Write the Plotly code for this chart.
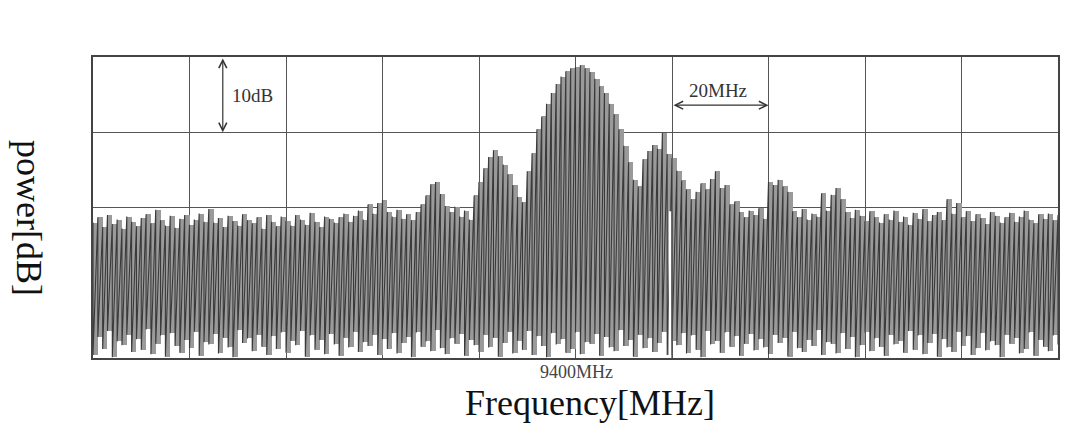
import plotly.graph_objects as go

# Spectrum analyser sweep: 9300–9500 MHz, 1 MHz bins, 10 dB/div (top of screen = 0 dB)
freq_start_mhz = 9300
bin_step_mhz = 1

# Peak level reached by the trace in each bin (dB)
peak_db = [
    -22.0, -21.3, -22.6, -21.0, -22.2, -21.6, -22.8, -21.2, -21.9, -22.5,
    -21.4, -20.9, -22.1, -20.3, -21.7, -22.4, -21.1, -22.7, -21.5, -21.0,
    -22.3, -21.6, -20.8, -21.9, -20.2, -22.0, -21.4, -22.6, -21.1, -21.8,
    -22.4, -20.9, -21.7, -22.1, -21.3, -22.8, -21.0, -21.9, -22.5, -21.2,
    -21.8, -22.4, -21.0, -21.6, -22.3, -20.7, -21.9, -22.6, -21.2, -21.5,
    -22.0, -21.3, -20.8, -21.9, -21.1, -20.4, -21.6, -19.6, -20.8, -19.4,
    -19.0, -20.6, -21.2, -20.3, -21.5, -20.9, -21.7, -20.6, -19.6, -18.4,
    -16.9, -16.6, -18.2, -19.8, -20.6, -19.9, -21.2, -20.4, -21.6, -18.4,
    -16.6, -14.8, -13.3, -12.4, -13.2, -14.3, -15.6, -17.0, -18.6, -19.3,
    -15.2, -12.8, -9.6, -7.9, -6.2, -4.8, -3.6, -2.6, -1.9, -1.5,
    -1.3, -1.1, -1.5, -2.0, -2.9, -3.9, -4.8, -6.2, -7.6, -9.6,
    -11.8, -14.0, -16.3, -17.2, -13.6, -12.5, -11.7, -12.2, -10.1, -12.9,
    -13.4, -15.1, -16.4, -17.6, -18.9, -17.9, -16.8, -17.6, -16.2, -15.2,
    -17.4, -17.0, -19.6, -19.2, -20.6, -21.3, -20.4, -21.0, -20.1, -21.5,
    -16.6, -17.0, -16.3, -17.2, -17.9, -20.5, -21.3, -20.2, -21.6, -20.8,
    -21.2, -18.1, -20.4, -18.3, -17.4, -18.9, -20.6, -21.4, -20.3, -21.1,
    -21.8, -20.5, -21.3, -22.0, -20.9, -21.6, -20.4, -21.9, -21.2, -22.3,
    -20.7, -21.5, -20.2, -21.8, -21.0, -20.6, -21.7, -18.9, -20.8, -19.4,
    -21.3, -20.5, -21.8, -20.9, -21.4, -22.2, -20.6, -21.1, -22.0, -21.3,
    -20.7, -21.9, -21.2, -20.4, -21.6, -22.1, -20.9, -21.5, -20.8, -21.7,
    -21.0,
]

# Lowest level reached by the trace in each bin (dB)
floor_db = [
    -39.6, -37.2, -38.8, -36.4, -39.9, -37.8, -38.3, -36.9, -39.2, -37.5,
    -38.9, -36.2, -39.5, -38.1, -37.0, -39.8, -36.7, -38.4, -39.3, -37.6,
    -38.7, -36.5, -39.7, -37.9, -38.2, -36.8, -39.4, -37.3, -38.6, -39.9,
    -36.3, -38.0, -37.4, -39.1, -36.9, -38.5, -39.6, -37.1, -38.8, -36.6,
    -39.3, -37.7, -38.3, -36.4, -39.8, -37.0, -38.9, -37.6, -39.5, -36.8,
    -38.2, -39.7, -37.3, -38.6, -36.5, -39.2, -37.9, -38.4, -36.9, -39.6,
    -37.5, -38.8, -36.7, -39.4, -38.0, -37.2, -39.9, -36.6, -38.5, -37.8,
    -39.1, -36.3, -38.7, -39.5, -37.4, -38.1, -36.8, -39.7, -37.6, -38.3,
    -39.2, -36.9, -38.6, -37.3, -39.8, -38.0, -36.5, -39.4, -37.7, -38.9,
    -36.4, -39.6, -37.1, -38.4, -39.9, -36.7, -38.2, -37.5, -39.3, -38.8,
    -36.6, -39.5, -37.9, -38.1, -36.8, -39.7, -37.2, -38.6, -39.1, -36.3,
    -38.4, -37.6, -39.8, -36.9, -38.7, -37.4, -39.2, -38.0, -36.5, -39.6,
    -37.8, -38.3, -36.7, -39.4, -37.0, -38.9, -39.9, -36.4, -38.2, -37.7,
    -39.3, -36.6, -38.5, -37.1, -39.7, -38.1, -36.8, -39.0, -37.5, -38.6,
    -39.5, -36.9, -38.0, -37.3, -39.8, -36.5, -38.7, -39.2, -37.6, -38.4,
    -36.3, -39.6, -37.9, -38.1, -39.4, -36.7, -38.8, -37.2, -39.9, -38.3,
    -36.6, -39.1, -37.4, -38.5, -39.7, -36.9, -38.2, -37.7, -39.3, -36.4,
    -38.9, -37.0, -39.5, -38.0, -36.8, -39.8, -37.5, -38.6, -39.2, -36.5,
    -38.4, -37.1, -39.6, -38.7, -36.7, -39.0, -37.8, -38.3, -39.9, -36.9,
    -38.1, -37.3, -39.4, -38.8, -36.6, -39.7, -37.6, -38.5, -39.1, -37.0,
    -38.2,
]

center_label = "9400MHz"
marker_gap_mhz = 9419.6          # blank column left in the trace by the marker
span_arrow_mhz = (9420, 9440)     # one horizontal division
span_arrow_db = -6.4
level_arrow_mhz = 9326.9
level_arrow_db = (0, -10)         # one vertical division

n = min(len(peak_db), len(floor_db))
freqs = [freq_start_mhz + i * bin_step_mhz for i in range(n)]
hi_db = peak_db[:n]
lo_db = floor_db[:n]

fig = go.Figure()

# Shaded extent of every sweep bin (peak to floor)
fig.add_trace(go.Bar(
    x=[f + bin_step_mhz / 2 for f in freqs],
    y=[h - l for h, l in zip(hi_db, lo_db)],
    base=lo_db, width=bin_step_mhz,
    marker=dict(color="#9a9a9a", line=dict(width=0)),
    hoverinfo="skip", showlegend=False,
))

# The analyser trace swings peak -> floor inside every bin
trace_x, trace_y = [], []
for f, hi, lo in zip(freqs, hi_db, lo_db):
    trace_x += [f, f]
    trace_y += [hi, lo]
fig.add_trace(go.Scatter(
    x=trace_x, y=trace_y, mode="lines",
    line=dict(color="#3a3a3a", width=1.1),
    hoverinfo="skip", showlegend=False,
))

# Marker column drawn blank over the trace
fig.add_shape(type="line", x0=marker_gap_mhz, x1=marker_gap_mhz, y0=-20.5, y1=-40,
              line=dict(color="white", width=2.5), layer="above")
# Keep the division line just right of it visible
fig.add_shape(type="line", x0=9420, x1=9420, y0=-20.5, y1=-40,
              line=dict(color="#555555", width=1.3), layer="above")

serif = "Liberation Serif, DejaVu Serif, serif"
anns = [
    dict(x=level_arrow_mhz, y=level_arrow_db[1], ax=level_arrow_mhz, ay=level_arrow_db[0],
         xref="x", yref="y", axref="x", ayref="y", text="", showarrow=True,
         arrowhead=5, startarrowhead=5, arrowside="end+start",
         arrowsize=1.3, arrowwidth=1.2, arrowcolor="#333"),
    dict(x=span_arrow_mhz[1], y=span_arrow_db, ax=span_arrow_mhz[0], ay=span_arrow_db,
         xref="x", yref="y", axref="x", ayref="y", text="", showarrow=True,
         arrowhead=5, startarrowhead=5, arrowside="end+start",
         arrowsize=1.3, arrowwidth=1.2, arrowcolor="#333"),
    dict(x=9333.0, y=-5.1, xref="x", yref="y", text="10dB", showarrow=False,
         font=dict(family=serif, size=19, color="#333")),
    dict(x=9429.6, y=-4.4, xref="x", yref="y", text="20MHz", showarrow=False,
         font=dict(family=serif, size=19, color="#333")),
    dict(x=9400.3, y=372, xref="x", yref="paper", text=center_label,
         showarrow=False, font=dict(family=serif, size=18, color="#444")),
    dict(x=590, y=403, xref="paper", yref="paper", text="Frequency[MHz]",
         showarrow=False, font=dict(family=serif, size=36, color="#111")),
    dict(x=29, y=218, xref="paper", yref="paper", text="power[dB]", textangle=90,
         showarrow=False, font=dict(family=serif, size=36, color="#111")),
]

W, H = 1075, 424
L, R, T, B = 93, 17, 57, 66
pw, ph = W - L - R, H - T - B
# labels placed in pixels are converted to paper coordinates
for a in anns:
    if a.get("xref") == "paper":
        a["x"] = (a["x"] - L) / pw
    if a.get("yref") == "paper":
        a["y"] = (H - B - a["y"]) / ph
    if not a.get("showarrow"):
        a["xanchor"] = "center"
        a["yanchor"] = "middle"
fig.update_layout(annotations=anns)

fig.update_layout(
    width=W, height=H,
    margin=dict(l=L, r=R, t=T, b=B),
    paper_bgcolor="white", plot_bgcolor="white",
    bargap=0,
    xaxis=dict(range=[9300, 9500], dtick=20, tick0=9300, showgrid=True,
               gridcolor="#555", gridwidth=1.3, showticklabels=False, ticks="",
               zeroline=False, showline=True, mirror=True, linecolor="#444", linewidth=1.6),
    yaxis=dict(range=[-40, 0], dtick=10, tick0=0, showgrid=True,
               gridcolor="#555", gridwidth=1.3, showticklabels=False, ticks="",
               zeroline=False, showline=True, mirror=True, linecolor="#444", linewidth=1.6),
)

fig.write_html("out.html")
